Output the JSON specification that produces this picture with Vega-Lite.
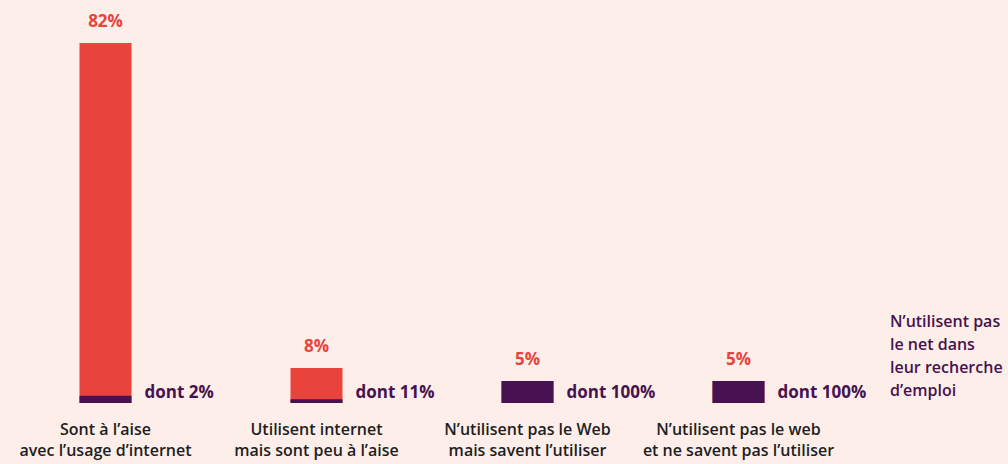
{
  "$schema": "https://vega.github.io/schema/vega-lite/v6.json",
  "width": 852,
  "height": 403,
  "autosize": {"type": "none"},
  "padding": {"left": 35, "top": 0, "right": 121, "bottom": 61},
  "background": "#fdeeea",
  "config": {
    "view": {"stroke": null},
    "font": "Open Sans",
    "text": {"font": "Open Sans"}
  },
  "data": {
    "values": [
      {"cat": "Sont à l’aise\navec l’usage d’internet", "pct": 82, "dontPct": 2, "dontVal": 1.64},
      {"cat": "Utilisent internet\nmais sont peu à l’aise", "pct": 8, "dontPct": 11, "dontVal": 0.88},
      {"cat": "N’utilisent pas le Web\nmais savent l’utiliser", "pct": 5, "dontPct": 100, "dontVal": 5},
      {"cat": "N’utilisent pas le web\net ne savent pas l’utiliser", "pct": 5, "dontPct": 100, "dontVal": 5}
    ]
  },
  "encoding": {
    "x": {
      "field": "cat",
      "type": "nominal",
      "sort": null,
      "scale": {"range": [-35, 809], "paddingInner": 0, "paddingOuter": 0},
      "axis": {
        "title": null,
        "domain": false,
        "ticks": false,
        "labelAngle": 0,
        "labelExpr": "split(datum.label, '\\n')",
        "labelFont": "Open Sans",
        "labelFontSize": 16,
        "labelFontWeight": 600,
        "labelColor": "#1e1e1e",
        "labelPadding": 18,
        "labelLineHeight": 21,
        "labelBaseline": "top",
        "labelLimit": 400
      }
    }
  },
  "layer": [
    {
      "mark": {"type": "bar", "width": 52},
      "encoding": {
        "y": {"field": "pct", "type": "quantitative", "scale": {"domain": [0, 91.8], "nice": false}, "axis": null},
        "color": {
          "datum": "Utilisent le net",
          "type": "nominal",
          "scale": {
            "domain": ["Utilisent le net", "N’utilisent pas le net dans leur recherche d’emploi"],
            "range": ["#e8443c", "#47124f"]
          },
          "legend": {
            "title": ["N’utilisent pas", "le net dans", "leur recherche", "d’emploi"],
            "titleFont": "Open Sans",
            "titleFontSize": 16,
            "titleFontWeight": 600,
            "titleColor": "#47124f",
            "titleLineHeight": 23,
            "titleBaseline": "top",
            "titleLimit": 200,
            "titlePadding": 0,
            "orient": "none",
            "legendX": 855,
            "legendY": 314,
            "values": ["N’utilisent pas le net dans leur recherche d’emploi"],
            "symbolSize": 0,
            "symbolStrokeWidth": 0,
            "symbolOpacity": 0,
            "labelExpr": "''",
            "labelFontSize": 1,
            "padding": 0
          }
        }
      }
    },
    {
      "mark": {"type": "bar", "width": 52},
      "encoding": {
        "y": {"field": "dontVal", "type": "quantitative"},
        "color": {"datum": "N’utilisent pas le net dans leur recherche d’emploi", "type": "nominal"}
      }
    },
    {
      "mark": {"type": "rule", "color": "#8a8a8a", "strokeWidth": 1.5},
      "encoding": {"y": {"datum": 0, "type": "quantitative"}}
    },
    {
      "mark": {"type": "text", "baseline": "bottom", "dy": -12, "fontSize": 17, "fontWeight": "bold", "color": "#e8443c"},
      "transform": [{"calculate": "datum.pct + '%'", "as": "pctLabel"}],
      "encoding": {
        "y": {"field": "pct", "type": "quantitative"},
        "text": {"field": "pctLabel", "type": "nominal"}
      }
    },
    {
      "mark": {"type": "text", "baseline": "alphabetic", "align": "left", "dx": 39, "dy": -5, "fontSize": 17, "fontWeight": "bold", "color": "#47124f"},
      "transform": [{"calculate": "'dont ' + datum.dontPct + '%'", "as": "dontLabel"}],
      "encoding": {
        "y": {"datum": 0, "type": "quantitative"},
        "text": {"field": "dontLabel", "type": "nominal"}
      }
    }
  ],
  "resolve": {"scale": {"color": "shared"}}
}
